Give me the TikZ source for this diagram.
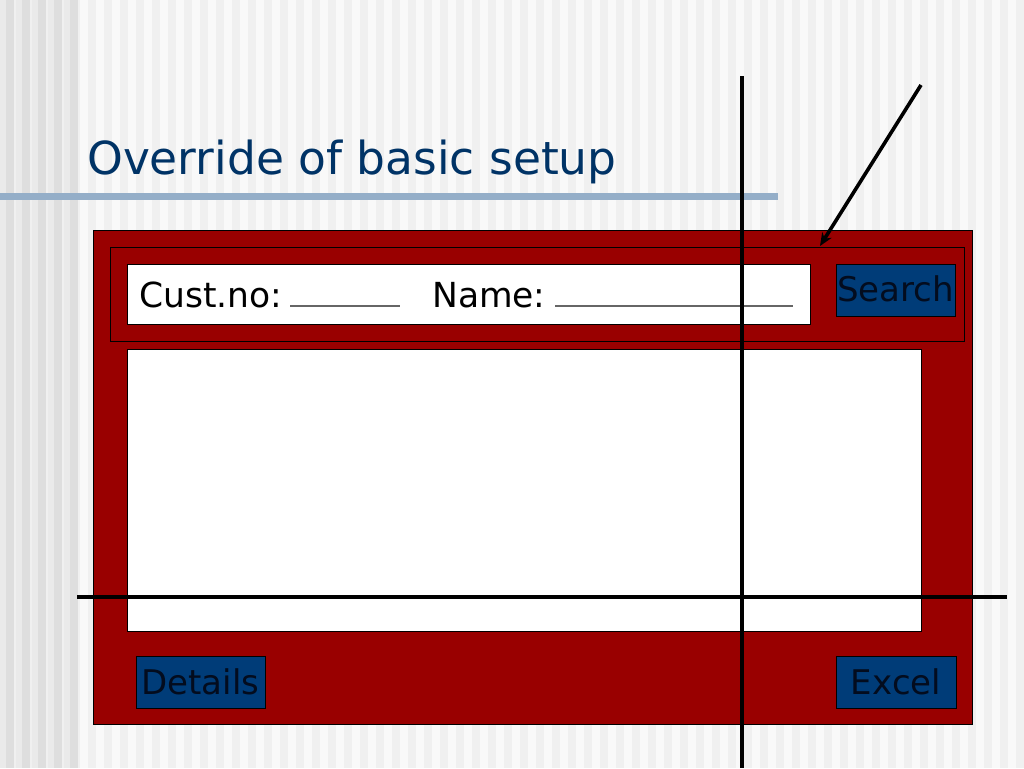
\documentclass[tikz,border=0pt]{standalone}
\usepackage{fontspec}
\setmainfont{DejaVu Sans}
\usetikzlibrary{arrows.meta}
\definecolor{bgbase}{RGB}{240,240,240}
\definecolor{bglight}{RGB}{249,249,249}
\definecolor{bgdark}{RGB}{222,222,222}
\definecolor{bgmid}{RGB}{234,234,234}
\definecolor{barblue}{RGB}{148,174,200}
\definecolor{titleblue}{RGB}{0,51,102}
\definecolor{formred}{RGB}{153,0,0}
\definecolor{btnblue}{RGB}{0,60,120}
\definecolor{btntext}{RGB}{3,12,30}
\tikzset{
  panel/.style={draw=black, line width=1pt, fill=formred, inner sep=0pt},
  whitebox/.style={draw=black, line width=1pt, fill=white, inner sep=0pt},
  btn/.style={draw=black, line width=1pt, fill=btnblue, inner sep=0pt, text=btntext, font=\fontsize{34}{40}\selectfont},
  lbl/.style={inner sep=0pt, font=\fontsize{34.5}{40}\selectfont, text=black},
  fieldline/.style={draw=gray!80!black, line width=1.5pt},
  crossline/.style={draw=black, line width=3.4pt},
  pointer/.style={draw=black, line width=3.6pt, -{Stealth[length=13pt,width=11pt]}}
}
\begin{document}
\begin{tikzpicture}[x=1pt,y=-1pt]
\useasboundingbox (0,0) rectangle (1024,768);
% background
\fill[bgbase] (0,0) rectangle (1024,768);
\foreach \i in {0,...,59} {
  \fill[bglight] ({80+\i*16},0) rectangle ({88+\i*16},768);
}
\foreach \i in {0,...,4} {
  \fill[bgdark] ({\i*16+6},0) rectangle ({\i*16+14},768);
  \fill[bgmid] ({\i*16},0) rectangle ({\i*16+6},768);
}
% title and bar
\fill[barblue] (0,193) rectangle (778,200);
\node[anchor=base west, inner sep=0pt, text=titleblue, font=\fontsize{45.5}{52}\selectfont] (title) at (87,174) {Override of basic setup};
% form
\node[panel, minimum width=879pt, minimum height=494pt] (outer) at (532.5,477) {};
\node[panel, minimum width=854pt, minimum height=94pt] (inner) at (537,294) {};
\node[whitebox, minimum width=683pt, minimum height=60pt] (input) at (468.5,294) {};
\node[lbl, anchor=base west] (custno) at (139,307) {Cust.no:};
\node[lbl, anchor=base west] (name) at (432,307) {Name:};
\coordinate (c1a) at (290,306);
\coordinate (c1b) at (400,306);
\coordinate (c2a) at (555,306);
\coordinate (c2b) at (793,306);
\draw[fieldline] (c1a) -- (c1b);
\draw[fieldline] (c2a) -- (c2b);
\node[btn, minimum width=119pt, minimum height=52pt] (search) at (895.5,290) {\raisebox{3pt}{Search}};
\node[whitebox, minimum width=794pt, minimum height=282pt] (results) at (524,490) {};
\node[btn, minimum width=129pt, minimum height=52pt] (details) at (200.5,682) {Details};
\node[btn, minimum width=120pt, minimum height=52pt] (excel) at (896,682) {Excel};
% cross lines
\coordinate (vt) at (742,76);
\coordinate (vb) at (742,768);
\coordinate (hl) at (77,597);
\coordinate (hr) at (1007,597);
\draw[crossline] (vt) -- (vb);
\draw[crossline] (hl) -- (hr);
% pointer arrow
\coordinate (ps) at (921,85);
\coordinate (pe) at (820,246);
\draw[pointer] (ps) -- (pe);
\end{tikzpicture}
\end{document}
